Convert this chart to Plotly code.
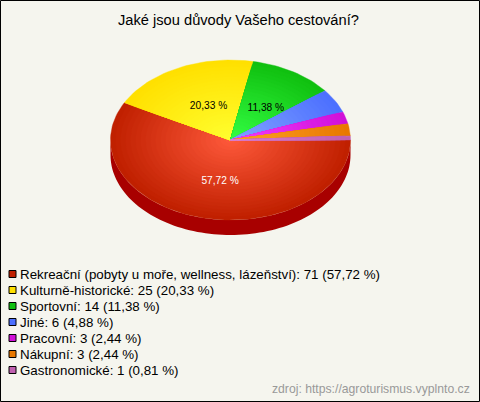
import math
import plotly.graph_objects as go

categories = ["Rekreační (pobyty u moře, wellness, lázeňství)", "Kulturně-historické", "Sportovní", "Jiné", "Pracovní", "Nákupní", "Gastronomické"]
counts = [71, 25, 14, 6, 3, 3, 1]
percents = [57.72, 20.33, 11.38, 4.88, 2.44, 2.44, 0.81]
edge_colors = ["#c02000", "#ffe000", "#10c010", "#4c70ff", "#d010d8", "#e87800", "#c060b0"]
center_colors = ["#ff5a3c", "#ffff30", "#34ff44", "#84a4ff", "#f440ff", "#ffa428", "#e080d0"]
swatch_colors = ["#c02000", "#ffe000", "#10c010", "#4c70ff", "#d010d8", "#e87800", "#c060b0"]
title = "Jaké jsou důvody Vašeho cestování?"
source = "zdroj: https://agroturismus.vyplnto.cz"

W, H = 480, 402
CX, CY, RX, RY, DEPTH = 230.5, 140, 120, 80, 15
RINGS = 24
BG = "#f5f5ee"
FONT = "Liberation Sans"


def mix(a, b, t):
    ca = [int(a[i:i + 2], 16) for i in (1, 3, 5)]
    cb = [int(b[i:i + 2], 16) for i in (1, 3, 5)]
    return "rgb(%d,%d,%d)" % tuple(round(p + (q - p) * t) for p, q in zip(ca, cb))


def pt(angle, f=1.0, dy=0.0):
    r = math.radians(angle)
    return CX + RX * f * math.cos(r), CY + RY * f * math.sin(r) + dy


fig = go.Figure()

# side wall: the front half of the pie, extruded downwards
front = [pt(a) for a in range(0, 181, 2)] + [pt(a, dy=DEPTH) for a in range(180, -1, -2)]
fig.add_trace(go.Scatter(x=[p[0] for p in front], y=[p[1] for p in front], fill="toself", mode="none",
                         fillcolor="#a80000", showlegend=False, hoverinfo="skip"))

total = sum(counts)
start = 0.0
mids = []
for i, c in enumerate(counts):
    sweep = 360.0 * c / total
    mids.append(start + sweep / 2)
    n = max(4, int(sweep / 2))
    for k in range(RINGS):
        f = 1 - k / RINGS
        pts = [(CX, CY)] + [pt(start + sweep * j / n, f) for j in range(n + 1)] + [(CX, CY)]
        fig.add_trace(go.Scatter(x=[p[0] for p in pts], y=[p[1] for p in pts], fill="toself", mode="lines",
                                 line=dict(width=0.4, color=mix(center_colors[i], edge_colors[i], f)),
                                 fillcolor=mix(center_colors[i], edge_colors[i], f),
                                 showlegend=False, hoverinfo="skip"))
    start += sweep

# percentage labels on the large slices
for i, p in enumerate(percents):
    if p > 5:
        x, y = pt(mids[i], 0.5)
        fig.add_trace(go.Scatter(x=[x + 4], y=[y + 3], mode="text", text=[f"{p:.2f} %".replace(".", ",")],
                                 textposition="middle center",
                                 textfont=dict(family=FONT, size=10.2, color="#ffffff" if i == 0 else "#000000"),
                                 showlegend=False, hoverinfo="skip"))

# legend
LEG_Y0, LEG_DY = 274, 16
fig.add_trace(go.Scatter(x=[12.5] * len(categories), y=[LEG_Y0 + i * LEG_DY for i in range(len(categories))],
                         mode="markers", marker=dict(symbol="square", size=7, color=swatch_colors,
                                                     line=dict(color="#000000", width=1)),
                         showlegend=False, hoverinfo="skip"))
annotations = []
for i, name in enumerate(categories):
    pct = f"{percents[i]:.2f}".replace(".", ",")
    annotations.append(dict(x=20, y=LEG_Y0 + i * LEG_DY, xref="x", yref="y", text=f"{name}: {counts[i]} ({pct} %)",
                            showarrow=False, xanchor="left", yanchor="middle", xshift=-2,
                            font=dict(family=FONT, size=13.33, color="#000000")))
annotations.append(dict(x=238, y=20, xref="x", yref="y", text=title, showarrow=False, xanchor="center",
                        yanchor="middle", font=dict(family=FONT, size=14.67, color="#000000")))
annotations.append(dict(x=470, y=389, xref="x", yref="y", text=source, showarrow=False, xanchor="right",
                        yanchor="middle", xshift=2, font=dict(family=FONT, size=12.2, color="#999999")))

fig.update_layout(
    width=W, height=H, margin=dict(l=0, r=0, t=0, b=0), paper_bgcolor=BG, plot_bgcolor=BG, showlegend=False,
    xaxis=dict(range=[0, W], visible=False, fixedrange=True),
    yaxis=dict(range=[H, 0], visible=False, fixedrange=True),
    annotations=annotations,
    shapes=[dict(type="rect", xref="x", yref="y", x0=0.5, y0=0.5, x1=W - 0.5, y1=H - 0.5,
                 line=dict(color="#000000", width=1))],
)
fig.write_html("out.html", config=dict(displayModeBar=False),
               default_width=W, default_height=H,
               post_script="document.documentElement.style.overflow='hidden';document.body.style.margin='0';document.body.style.overflow='hidden';")
